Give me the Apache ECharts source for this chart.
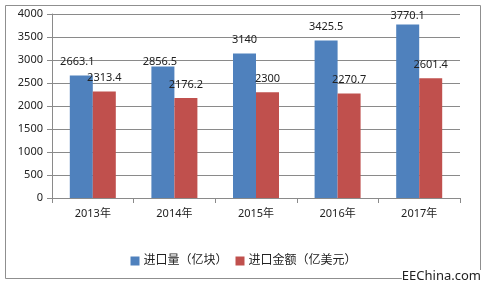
<!DOCTYPE html>
<html><head><meta charset="utf-8">
<script src="https://cdn.jsdelivr.net/npm/echarts@6/dist/echarts.min.js"></script>
<style>html,body{margin:0;padding:0;background:#fff}#c{width:487px;height:286px}</style>
</head><body><div id="c"></div>
<script>
const categories = ['2013年','2014年','2015年','2016年','2017年'];
const volume = [2663.1, 2856.5, 3140, 3425.5, 3770.1];
const amount = [2313.4, 2176.2, 2300, 2270.7, 2601.4];
const seriesNames = ['进口量（亿块）','进口金额（亿美元）'];
const yTicks = [0, 500, 1000, 1500, 2000, 2500, 3000, 3500, 4000];

const FONT = '"Noto Sans", "Noto Sans CJK SC", sans-serif';
const volOffsets = [[-4,0],[-3,9],[0,0],[0,0],[0,5]];
const chart = echarts.init(document.getElementById('c'), null, {renderer:'canvas'});
chart.setOption({
  animation:false,
  backgroundColor:'#fff',
  textStyle:{fontFamily:FONT},
  grid:{left:52,right:27,top:14,bottom:88},
  legend:{
    top:250, left:'center', itemWidth:9, itemHeight:9, itemGap:8,
    icon:'rect',
    textStyle:{fontSize:12,color:'#222',fontFamily:FONT,padding:[0,0,0,-1]},
    data:seriesNames
  },
  xAxis:{
    type:'category', data:categories,
    axisLine:{lineStyle:{color:'#8a8a8a'}},
    axisTick:{show:true,length:5,lineStyle:{color:'#8a8a8a'}},
    axisLabel:{color:'#222',fontSize:11,margin:10,fontFamily:FONT}
  },
  yAxis:{
    type:'value', min:yTicks[0], max:yTicks[yTicks.length-1], interval:yTicks[1]-yTicks[0],
    axisLine:{show:true,lineStyle:{color:'#8a8a8a'}},
    axisTick:{show:true,length:5,lineStyle:{color:'#8a8a8a'}},
    splitLine:{lineStyle:{color:'#8a8a8a'}},
    axisLabel:{color:'#222',fontSize:11,margin:9,fontFamily:FONT,formatter:v=>String(v)}
  },
  series:[
    {name:seriesNames[0], type:'bar', barWidth:23, barGap:'0%', itemStyle:{color:'#4F81BD'},
     data:volume.map((v,i)=>({value:v,label:{offset:volOffsets[i]}})),
     label:{show:true,position:'top',distance:8,color:'#222',fontSize:11,fontFamily:FONT}},
    {name:seriesNames[1], type:'bar', barWidth:23, itemStyle:{color:'#C0504D'},
     data:amount,
     label:{show:true,position:'top',distance:8,color:'#222',fontSize:11,fontFamily:FONT}}
  ],
  graphic:[
    {type:'rect', shape:{x:5.5,y:5.5,width:475,height:273}, style:{fill:'none',stroke:'#8f8f8f',lineWidth:1}, z:-1},
    {type:'text', right:6, bottom:3, style:{text:'EEChina.com',fontSize:13,fill:'#222',fontFamily:FONT,backgroundColor:'#fff'}}
  ]
});
</script></body></html>
